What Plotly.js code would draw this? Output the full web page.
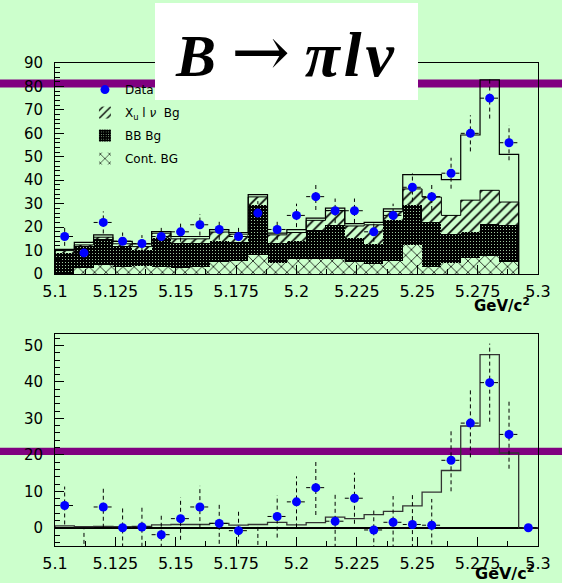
<!DOCTYPE html>
<html>
<head>
<meta charset="utf-8">
<script src="https://cdn.plot.ly/plotly-3.0.1.min.js"></script>
<style>
html,body{margin:0;padding:0;background:#ccffcc;}
#chart{width:562px;height:583px;}
</style>
</head>
<body>
<div id="chart"></div>
<script>
// ---- data ----
const binCenter = [5.104, 5.112, 5.120, 5.128, 5.136, 5.144, 5.152, 5.160, 5.168, 5.176,
                   5.184, 5.192, 5.200, 5.208, 5.216, 5.224, 5.232, 5.240, 5.248, 5.256,
                   5.264, 5.272, 5.280, 5.288, 5.296];
const binHalfWidth = 0.004;

// upper panel (24 bins)
const topData = [16, 9, 22, 14, 13, 16, 18, 21, 19, 16, 26, 19, 25, 33, 27, 27, 18, 25, 37, 33, 43, 60, 75, 56];
const topErr  = [4.0, 3.0, 4.7, 3.7, 3.6, 4.0, 4.2, 4.6, 4.4, 4.0, 5.1, 4.4, 5.0, 5.7, 5.2, 5.2, 4.2, 5.0, 6.1, 5.7, 6.6, 7.7, 8.7, 7.5];
const contBg  = [0, 2.4, 3.9, 3.0, 3.4, 3.0, 2.4, 3.2, 5.3, 5.5, 8.0, 4.6, 6.3, 6.2, 6.2, 5.0, 4.3, 5.6, 12.4, 3.0, 4.6, 7.0, 7.7, 5.3];
const bbBg    = [9.0, 9.6, 10.9, 9.0, 6.9, 12.3, 10.8, 10.0, 8.7, 8.0, 21.6, 8.7, 7.7, 12.7, 14.8, 10.3, 8.7, 17.6, 17.2, 19.4, 12.4, 11.0, 13.7, 15.4];
const xuBg    = [1.0, 0.4, 0.9, 0.9, 1.4, 2.1, 1.8, 1.8, 3.9, 3.5, 3.3, 3.4, 3.7, 4.0, 6.1, 5.2, 8.0, 3.5, 6.7, 10.4, 8.0, 13.5, 14.3, 10.0];
const totalFit = [10.5, 13.5, 16.7, 13.9, 12.9, 18.1, 16, 16, 18.9, 17.7, 33.9, 17.4, 18.9, 23.8, 28.1, 21.5, 22, 27.8, 42.4, 42.4, 40.3, 59.3, 82.8, 51];

// lower panel (25 bins): background-subtracted data and signal MC
const subData  = [6.1, -6.3, 5.7, 0, 0.2, -1.9, 2.5, 5.7, 1.2, -0.8, -7.0, 3.1, 7.1, 11.0, 1.8, 8.1, -0.6, 1.5, 0.9, 0.7, 18.5, 28.7, 39.8, 25.6, 0];
const subErr   = [5.2, 5.8, 5.7, 5.4, 5.4, 5.5, 5.8, 5.8, 5.6, 5.5, 7.3, 5.8, 7.0, 7.5, 7.3, 7.0, 5.3, 7.2, 8.4, 7.2, 8.5, 9.4, 10.7, 9.4, 0];
const signalMC = [0.5, 0.3, 0.4, 0.3, 0.4, 0.8, 0.9, 0.9, 1.2, 0.7, 0.9, 1.5, 0.8, 1.4, 2.9, 2.5, 3.6, 4.5, 6.0, 9.8, 15.7, 27.9, 47.5, 20.5, 0];

const xTickVals = [5.1, 5.125, 5.15, 5.175, 5.2, 5.225, 5.25, 5.275, 5.3];
const xTickText = ['5.1', '5.125', '5.15', '5.175', '5.2', '5.225', '5.25', '5.275', '5.3'];

// ---- helpers ----
const topX = binCenter.slice(0, topData.length);

function stepLine(xs, vs, h) {
  const x = [xs[0] - h], y = [0];
  for (let i = 0; i < xs.length; i++) { x.push(xs[i] - h); y.push(vs[i]); }
  const last = xs.length - 1;
  x.push(xs[last] + h); y.push(vs[last]);
  x.push(xs[last] + h); y.push(0);
  return {x, y};
}
function errLines(xs, ys, es, h) {
  const x = [], y = [];
  for (let i = 0; i < xs.length; i++) {
    x.push(xs[i], xs[i], null); y.push(ys[i] - es[i], ys[i] + es[i], null);
    x.push(xs[i] - h, xs[i] + h, null); y.push(ys[i], ys[i], null);
  }
  return {x, y};
}
const xuTop = contBg.map((c, i) => c + bbBg[i] + xuBg[i]);

const GREEN = '#ccffcc';
const totStep = stepLine(topX, totalFit, binHalfWidth);
const xuStep = stepLine(topX, xuTop, binHalfWidth);
const topE = errLines(topX, topData, topErr, binHalfWidth);
const sigStep = stepLine(binCenter, signalMC, binHalfWidth);
const botE = errLines(binCenter, subData, subErr, binHalfWidth);

const traces = [
  {type: 'bar', x: topX, y: contBg, width: 2 * binHalfWidth, xaxis: 'x', yaxis: 'y',
   name: 'Cont. BG', legendgroup: 'g4', legendrank: 4, hoverinfo: 'skip',
   marker: {color: GREEN, line: {width: 0},
            pattern: {shape: 'x', fgcolor: '#000000', bgcolor: GREEN, size: 8, solidity: 0.18}}},
  {type: 'bar', x: topX, y: bbBg, width: 2 * binHalfWidth, xaxis: 'x', yaxis: 'y',
   name: 'BB Bg', legendgroup: 'g3', legendrank: 3, hoverinfo: 'skip',
   marker: {color: '#000000', line: {width: 0},
            pattern: {shape: '.', fgcolor: GREEN, bgcolor: '#000000', size: 3, solidity: 0.1}}},
  {type: 'bar', x: topX, y: xuBg, width: 2 * binHalfWidth, xaxis: 'x', yaxis: 'y',
   name: 'X<sub>u</sub> l <i>ν</i>  Bg', legendgroup: 'g2', legendrank: 2, hoverinfo: 'skip',
   marker: {color: GREEN, line: {width: 0},
            pattern: {shape: '/', fgcolor: '#000000', bgcolor: GREEN, size: 7, solidity: 0.24}}},
  {type: 'scatter', mode: 'lines', x: xuStep.x, y: xuStep.y, xaxis: 'x', yaxis: 'y',
   line: {color: '#000000', width: 1, shape: 'hv'}, showlegend: false, hoverinfo: 'skip'},
  {type: 'scatter', mode: 'lines', x: totStep.x, y: totStep.y, xaxis: 'x', yaxis: 'y',
   line: {color: '#000000', width: 1.2, shape: 'hv'}, showlegend: false, hoverinfo: 'skip'},
  {type: 'scatter', mode: 'lines', x: topE.x, y: topE.y, xaxis: 'x', yaxis: 'y',
   line: {color: '#000000', width: 1, dash: '4px,3px'}, showlegend: false, hoverinfo: 'skip'},
  {type: 'scatter', mode: 'markers', x: topX, y: topData, xaxis: 'x', yaxis: 'y',
   name: 'Data', legendgroup: 'g1', legendrank: 1,
   marker: {color: '#0000ff', size: 9}},
  // lower panel
  {type: 'scatter', mode: 'lines', x: sigStep.x, y: sigStep.y, xaxis: 'x2', yaxis: 'y2',
   line: {color: '#333333', width: 1.3, shape: 'hv'}, showlegend: false, hoverinfo: 'skip'},
  {type: 'scatter', mode: 'lines', x: botE.x, y: botE.y, xaxis: 'x2', yaxis: 'y2',
   line: {color: '#000000', width: 1, dash: '4px,3px'}, showlegend: false, hoverinfo: 'skip'},
  {type: 'scatter', mode: 'markers', x: binCenter, y: subData, xaxis: 'x2', yaxis: 'y2',
   marker: {color: '#0000ff', size: 9}, showlegend: false, cliponaxis: true}
];

const tickFontX = {family: 'DejaVu Sans', size: 16, color: '#000000'};
const tickFontY = {family: 'DejaVu Sans', size: 15, color: '#000000'};
const xCommon = {
  range: [5.1, 5.3], tickmode: 'array', tickvals: xTickVals, ticktext: xTickText,
  ticks: 'inside', ticklen: 9, tickwidth: 1, tickcolor: '#000000',
  minor: {tick0: 5.1, dtick: 0.0125, ticks: 'inside', ticklen: 5, tickcolor: '#000000'},
  showline: true, mirror: true, linecolor: '#000000', linewidth: 1,
  showgrid: false, zeroline: false, tickfont: tickFontX, ticklabelstandoff: 3
};
const yCommon = {
  tick0: 0, dtick: 10, ticks: 'inside', ticklen: 9, tickwidth: 1, tickcolor: '#000000',
  minor: {dtick: 2, ticks: 'inside', ticklen: 5, tickcolor: '#000000'},
  showline: true, mirror: true, linecolor: '#000000', linewidth: 1,
  showgrid: false, tickfont: tickFontY, ticklabelstandoff: 8
};

const layout = {
  width: 562, height: 583,
  margin: {l: 55, r: 24, t: 63, b: 37, pad: 0},
  paper_bgcolor: GREEN, plot_bgcolor: 'rgba(0,0,0,0)',
  barmode: 'stack', bargap: 0,
  showlegend: true,
  legend: {x: 0.062, y: 0.975, xanchor: 'left', yanchor: 'top', bgcolor: 'rgba(0,0,0,0)',
           font: {family: 'DejaVu Sans', size: 12, color: '#000000'},
           traceorder: 'grouped', tracegroupgap: 4, itemwidth: 30},
  xaxis: Object.assign({}, xCommon, {anchor: 'y', domain: [0, 1]}),
  yaxis: Object.assign({}, yCommon, {anchor: 'x', domain: [0.5631, 1], range: [0, 90], zeroline: false}),
  xaxis2: Object.assign({}, xCommon, {anchor: 'y2', domain: [0, 1]}),
  yaxis2: Object.assign({}, yCommon, {anchor: 'x2', domain: [0, 0.4379], range: [-5, 53],
                                      zeroline: true, zerolinecolor: '#000000', zerolinewidth: 1.5}),
  shapes: [
    {type: 'rect', xref: 'paper', yref: 'paper', x0: -0.12, x1: 1.06, y0: 0.9493, y1: 0.9658,
     fillcolor: '#800080', line: {width: 0}, layer: 'below'},
    {type: 'rect', xref: 'paper', yref: 'paper', x0: -0.12, x1: 1.06, y0: 0.1884, y1: 0.2035,
     fillcolor: '#800080', line: {width: 0}, layer: 'below'}
  ],
  annotations: [
    {xref: 'paper', yref: 'paper', x: 0.4793, y: 1.0238, xanchor: 'center', yanchor: 'middle',
     showarrow: false,
     text: '<b><i>B</i></b> <span style="font-family:DejaVu Serif;font-size:70px">→</span> <span style="font-size:64px;letter-spacing:4px"><b><i>πlν</i></b></span>',
     font: {family: 'Liberation Serif', size: 60, color: '#000000'},
     bgcolor: '#ffffff', width: 263, height: 97, borderpad: 0, borderwidth: 0},
    {xref: 'paper', yref: 'paper', x: 0.987, y: 0.5238, xanchor: 'right', yanchor: 'top',
     showarrow: false, text: '<b>GeV/c<sup>2</sup></b>',
     font: {family: 'DejaVu Sans', size: 15, color: '#000000'}},
    {xref: 'paper', yref: 'paper', x: 0.998, y: -0.029, xanchor: 'right', yanchor: 'top',
     showarrow: false, text: '<b>GeV/c<sup>2</sup></b>',
     font: {family: 'DejaVu Sans', size: 16, color: '#000000'}}
  ]
};

Plotly.newPlot('chart', traces, layout, {displayModeBar: false, staticPlot: true});
</script>
</body>
</html>
